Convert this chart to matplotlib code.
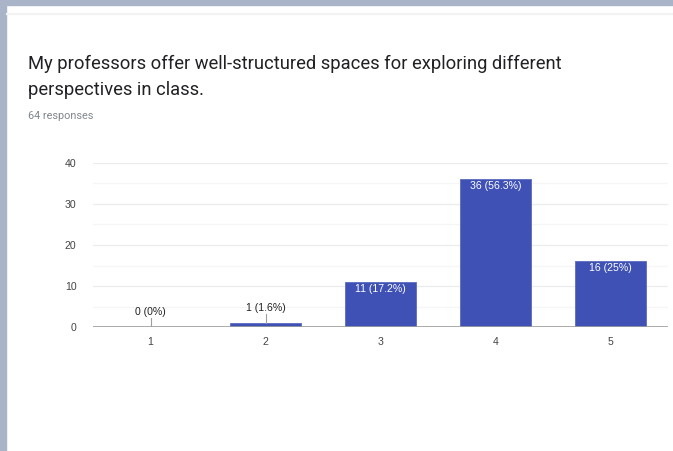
import matplotlib
matplotlib.use("Agg")
import matplotlib.pyplot as plt
from matplotlib.patches import Rectangle

categories = ["1", "2", "3", "4", "5"]
counts = [0, 1, 11, 36, 16]
pct_labels = ["0 (0%)", "1 (1.6%)", "11 (17.2%)", "36 (56.3%)", "16 (25%)"]
y_ticks = [0, 10, 20, 30, 40]

W, H = 673, 451
fig = plt.figure(figsize=(W / 100, H / 100), dpi=100)
fig.patch.set_facecolor("white")

# page frame around the card
fig.patches.append(Rectangle((0, 1 - 5 / H), 1, 5 / H, transform=fig.transFigure,
                             color="#a9b4c8", zorder=0))
fig.patches.append(Rectangle((0, 0), 6 / W, 1, transform=fig.transFigure,
                             color="#a9b4c8", zorder=0))
fig.patches.append(Rectangle((6 / W, 1 - 14 / H), 1, 1.5 / H, transform=fig.transFigure,
                             color="#f3f3f3", zorder=0))

fig.text(28 / W, 1 - 64 / H, "My professors offer well-structured spaces for exploring different",
         fontsize=13.2, color="#202124", va="center", family="Roboto")
fig.text(28 / W, 1 - 90 / H, "perspectives in class.",
         fontsize=13.2, color="#202124", va="center", family="Roboto")
fig.text(28 / W, 1 - 116 / H, "64 responses", fontsize=7.8, color="#80868b",
         va="center", family="Roboto")

lab_font = "Liberation Sans"
ax = fig.add_axes([93 / W, (H - 327) / H, 575 / W, 164 / H])
x = list(range(len(categories)))
ax.bar(x, counts, width=0.626, color="#3f51b5", edgecolor="#5c6bc0", linewidth=0.6, zorder=3)
ax.set_xlim(-0.5, len(categories) - 0.5)
ax.set_ylim(0, 40)

for v in range(0, 41, 5):
    ax.axhline(v, color="#ececec" if v % 10 == 0 else "#f6f6f6", lw=0.9, zorder=1)
ax.axhline(0, color="#9e9e9e", lw=1.2, zorder=4)

for i, (c, lab) in enumerate(zip(counts, pct_labels)):
    if c < 5:
        ax.plot([i, i], [c, c + 2.2], color="#9e9e9e", lw=0.8, zorder=4)
        ax.text(i, c + 2.4, lab, ha="center", va="bottom", fontsize=7.6,
                color="#222222", family=lab_font)
    else:
        ax.text(i, c - 0.5, lab, ha="center", va="top", fontsize=7.6,
                color="white", family=lab_font, zorder=5)

ax.set_xticks(x)
ax.set_xticklabels(categories)
ax.set_yticks(y_ticks)
ax.tick_params(length=0, labelsize=7.6, colors="#444444", pad=7)
ax.tick_params(axis="y", pad=12)
for lab in ax.get_xticklabels() + ax.get_yticklabels():
    lab.set_family(lab_font)
for s in ax.spines.values():
    s.set_visible(False)
ax.set_facecolor("white")

fig.savefig("out.png", dpi=100)
